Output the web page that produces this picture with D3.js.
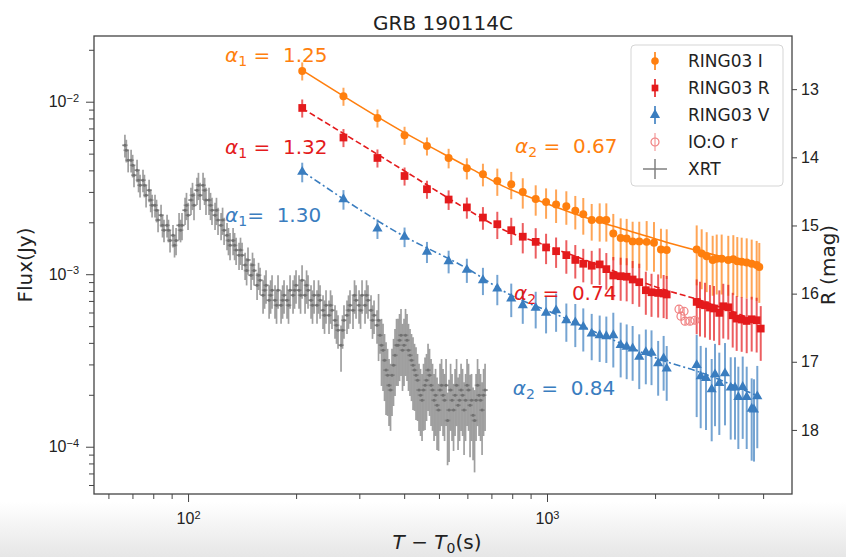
<!DOCTYPE html>
<html>
<head>
<meta charset="utf-8">
<script src="https://cdn.jsdelivr.net/npm/d3@7/dist/d3.min.js"></script>
<style>
    body { margin: 0; background: #fff; }
    svg { font-family: "DejaVu Sans", sans-serif; }
    .axis path, .axis line { stroke: #444; }
    .axis text { fill: #222; font-size: 16px; }
</style>
</head>
<body>
<div id="chart"></div>
<script>

// RING03 I band (orange)
let iTime = [208, 271, 337, 401, 463, 532, 598, 663, 727, 795, 856, 930, 994, 1060, 1132, 1199, 1262, 1332, 1402, 1463,
    1530, 1604, 1667, 1732, 1807, 1895, 1986, 2077, 2155, 2612, 2697, 2785, 2894, 2970, 3066, 3199, 3304, 3389, 3486,
    3600, 3717, 3838, 3903];
let iFlux = [0.01509, 0.01076, 0.00805, 0.00639, 0.00554, 0.00472, 0.00412, 0.00380, 0.00347, 0.00332, 0.00300, 0.00273,
    0.00262, 0.00254, 0.00248, 0.00233, 0.00223, 0.00206, 0.00206, 0.00206, 0.00172, 0.00162, 0.00161, 0.00155, 0.00155,
    0.00154, 0.00152, 0.00139, 0.00138, 0.00139, 0.00132, 0.00127, 0.00121, 0.00123, 0.00123, 0.00121, 0.00122, 0.00119,
    0.00118, 0.00117, 0.00115, 0.00113, 0.00110];
let iErr = [0.12, 0.12, 0.12, 0.12, 0.12, 0.13, 0.14, 0.15, 0.18, 0.18, 0.2, 0.2, 0.2, 0.22, 0.22, 0.22, 0.24, 0.24,
    0.25, 0.25, 0.3, 0.3, 0.3, 0.3, 0.3, 0.32, 0.32, 0.32, 0.32, 0.38, 0.38, 0.38, 0.38, 0.38, 0.38, 0.38, 0.38, 0.38,
    0.38, 0.38, 0.38, 0.38, 0.38];

// RING03 R band (red)
let rTime = [208, 271, 337, 401, 463, 532, 598, 663, 727, 795, 856, 930, 994, 1060, 1132, 1199, 1262, 1332, 1402, 1463,
    1530, 1604, 1667, 1732, 1807, 1885, 1955, 2040, 2113, 2155, 2612, 2668, 2755, 2844, 2919, 3020, 3098, 3199, 3291,
    3376, 3486, 3600, 3717, 3838, 3939];
let rFlux = [0.00920, 0.00620, 0.00472, 0.00371, 0.00311, 0.00271, 0.00244, 0.00213, 0.00195, 0.00180, 0.00165, 0.00154,
    0.00143, 0.00136, 0.00129, 0.00121, 0.00115, 0.00112, 0.00114, 0.00107, 0.000983, 0.000974, 0.000967, 0.000932,
    0.000899, 0.000808, 0.000786, 0.000779, 0.000773, 0.000763, 0.000691, 0.000670, 0.000661, 0.000641, 0.000633,
    0.000597, 0.000652, 0.000643, 0.000578, 0.000553, 0.000546, 0.000536, 0.000548, 0.000541, 0.000484];
let rErr = [0.12, 0.12, 0.12, 0.12, 0.12, 0.13, 0.14, 0.15, 0.18, 0.18, 0.2, 0.2, 0.2, 0.2, 0.22, 0.22, 0.22, 0.22,
    0.24, 0.24, 0.28, 0.28, 0.28, 0.28, 0.28, 0.28, 0.28, 0.28, 0.28, 0.28, 0.35, 0.35, 0.35, 0.35, 0.35, 0.35, 0.35,
    0.35, 0.35, 0.35, 0.35, 0.35, 0.35, 0.35, 0.35];

// RING03 V band (blue)
let vTime = [208, 271, 337, 401, 463, 532, 598, 663, 727, 795, 856, 930, 994, 1060, 1132, 1199, 1262, 1332, 1402, 1463,
    1530, 1604, 1667, 1732, 1807, 1885, 1955, 2040, 2113, 2155, 2612, 2680, 2773, 2876, 2938, 3020, 3132, 3249, 3340,
    3412, 3509, 3600, 3717, 3772, 3853];
let vFlux = [0.00392, 0.00272, 0.00184, 0.00165, 0.00135, 0.00119, 0.00106, 0.000923, 0.000826, 0.000723, 0.000661,
    0.000638, 0.000597, 0.000618, 0.000541, 0.000525, 0.000495, 0.000453, 0.000443, 0.000437, 0.000443, 0.000388,
    0.000379, 0.000371, 0.000332, 0.000354, 0.000350, 0.000304, 0.000325, 0.000284, 0.000297, 0.000256, 0.000250,
    0.000215, 0.000263, 0.000234, 0.000266, 0.000220, 0.000220, 0.000194, 0.000222, 0.000194, 0.000166, 0.000164,
    0.000196];
let vErr = [0.13, 0.13, 0.13, 0.13, 0.14, 0.15, 0.16, 0.18, 0.2, 0.22, 0.22, 0.24, 0.24, 0.25, 0.25, 0.28, 0.28, 0.3,
    0.3, 0.3, 0.35, 0.35, 0.35, 0.35, 0.35, 0.35, 0.35, 0.35, 0.35, 0.35, 0.5, 0.5, 0.5, 0.5, 0.5, 0.5, 0.5, 0.5, 0.5,
    0.5, 0.5, 0.5, 0.5, 0.5, 0.5];

// IO:O r (open circles)
let ioTime = [2332, 2362, 2424, 2502, 2584, 2408];
let ioFlux = [0.000627, 0.000571, 0.000534, 0.000534, 0.000541, 0.000610];
let ioErr = [0.05, 0.05, 0.05, 0.05, 0.05, 0.05];

// Swift XRT (grey)
let xrtTime = [66.7, 68.1, 69.4, 70.7, 72.1, 73.5, 74.9, 76.4, 77.9, 79.4, 80.9, 82.5, 84.1, 85.7, 87.4, 89.1, 90.8,
    92.6, 94.4, 96.2, 98.1, 100, 101.9, 103.9, 105.9, 108.0, 110.1, 112.2, 114.4, 116.6, 118.9, 121.2, 123.6, 126.0,
    128.4, 130.9, 133.5, 136.1, 138.7, 141.4, 144.2, 146.9, 149.8, 152.7, 155.7, 158.7, 161.8, 164.9, 168.2, 171.4,
    174.7, 178.1, 181.6, 185.1, 188.7, 192.4, 196.1, 199.9, 203.8, 207.8, 211.8, 215.9, 220.1, 224.4, 228.7, 233.2,
    237.7, 242.3, 247.0, 251.8, 256.7, 261.7, 266.8, 271.9, 277.2, 282.6, 288.1, 293.8, 299.5, 305.3, 311.2, 317.2,
    323.4, 329.7, 336.1, 342.6, 349.3, 356.1, 363.0, 370.0, 377.2, 384.6, 392.0, 399.6, 407.4, 415.3, 423.4, 431.6,
    440.0, 448.6, 457.3, 466.2, 475.3, 484.5, 493.9, 503.5, 513.3, 523.3, 533.5, 543.8, 554.4, 565.2, 576.2, 587.4,
    598.8, 610.4, 622.3, 634.4, 646.7, 659.3, 672.1,
    67.3, 70.1, 72.8, 75.6, 78.7, 81.7, 84.9, 88.2, 91.7, 95.3, 99.0, 102.9, 106.9, 111.2, 115.5, 120.0, 124.8, 129.6,
    134.8, 140.0, 145.6, 151.2, 157.2, 163.4, 169.8, 176.4, 183.4, 190.5, 198.0, 205.8, 213.9, 222.2, 230.9, 240.0,
    249.4, 259.2, 269.4, 279.9, 290.9, 302.4, 314.2, 326.5, 339.4, 345.9, 352.7, 359.6, 366.5, 373.6, 380.9, 388.3,
    395.8, 403.5, 411.3, 419.3, 427.5, 435.8, 444.3, 452.9, 461.7, 470.7, 479.9, 489.2, 498.7, 508.4, 518.3, 528.4,
    538.7, 549.1, 559.8, 570.7, 581.8, 593.1, 604.6, 616.3, 628.3, 640.5, 653.0, 665.7];
let xrtFlux = [5.59e-3, 4.58e-3, 4.58e-3, 3.75e-3, 4.01e-3, 3.28e-3, 3.51e-3, 2.87e-3, 3.07e-3, 2.51e-3,
    2.51e-3, 2.06e-3, 2.20e-3, 1.80e-3, 1.92e-3, 1.57e-3, 1.68e-3, 1.57e-3, 1.92e-3, 1.92e-3,
    2.35e-3, 2.20e-3, 2.69e-3, 2.51e-3, 3.07e-3, 2.87e-3, 3.28e-3, 2.69e-3, 2.69e-3, 2.35e-3,
    2.20e-3, 2.06e-3, 1.92e-3, 1.80e-3, 1.68e-3, 1.47e-3, 1.57e-3, 1.38e-3, 1.29e-3, 1.29e-3,
    1.13e-3, 1.21e-3, 0.987e-3, 1.05e-3, 0.863e-3, 0.923e-3, 0.756e-3, 0.863e-3, 0.707e-3, 0.808e-3,
    0.707e-3, 0.808e-3, 0.661e-3, 0.756e-3, 0.707e-3, 0.808e-3, 0.756e-3, 0.863e-3, 0.808e-3, 0.923e-3,
    0.756e-3, 0.808e-3, 0.707e-3, 0.756e-3, 0.661e-3, 0.707e-3, 0.618e-3, 0.661e-3, 0.578e-3, 0.618e-3,
    0.541e-3, 0.474e-3, 0.388e-3, 0.541e-3, 0.578e-3, 0.661e-3, 0.618e-3, 0.707e-3, 0.661e-3, 0.756e-3,
    0.661e-3, 0.707e-3, 0.618e-3, 0.578e-3, 0.506e-3, 0.443e-3, 0.363e-3, 0.278e-3, 0.227e-3, 0.260e-3,
    0.339e-3, 0.388e-3, 0.443e-3, 0.388e-3, 0.414e-3, 0.339e-3, 0.297e-3, 0.260e-3, 0.213e-3, 0.186e-3,
    0.227e-3, 0.278e-3, 0.227e-3, 0.186e-3, 0.174e-3, 0.213e-3, 0.199e-3, 0.227e-3, 0.163e-3, 0.186e-3,
    0.199e-3, 0.174e-3, 0.213e-3, 0.163e-3, 0.227e-3, 0.174e-3, 0.152e-3, 0.186e-3, 0.199e-3, 0.163e-3, 0.213e-3,
    5.23e-3, 4.28e-3, 3.51e-3, 3.28e-3, 2.69e-3, 2.35e-3, 1.92e-3, 1.80e-3, 1.47e-3, 1.80e-3,
    2.51e-3, 2.87e-3, 3.28e-3, 3.07e-3, 2.51e-3, 2.35e-3, 2.06e-3, 1.57e-3, 1.47e-3, 1.38e-3,
    1.05e-3, 1.13e-3, 0.987e-3, 0.808e-3, 0.756e-3, 0.661e-3, 0.707e-3, 0.661e-3, 0.808e-3, 0.756e-3,
    0.863e-3, 0.661e-3, 0.756e-3, 0.578e-3, 0.661e-3, 0.506e-3, 0.474e-3, 0.618e-3, 0.756e-3, 0.618e-3,
    0.756e-3, 0.541e-3, 0.541e-3, 0.388e-3, 0.317e-3, 0.260e-3, 0.213e-3, 0.297e-3, 0.388e-3, 0.414e-3,
    0.363e-3, 0.443e-3, 0.363e-3, 0.317e-3, 0.278e-3, 0.243e-3, 0.199e-3, 0.213e-3, 0.243e-3, 0.260e-3,
    0.213e-3, 0.199e-3, 0.163e-3, 0.227e-3, 0.186e-3, 0.142e-3, 0.213e-3, 0.163e-3, 0.227e-3, 0.186e-3,
    0.199e-3, 0.186e-3, 0.213e-3, 0.186e-3, 0.142e-3, 0.227e-3, 0.186e-3, 0.199e-3];
let xrtErr = [0.15, 0.15, 0.15, 0.15, 0.15, 0.15, 0.15, 0.15, 0.15, 0.15, 0.15, 0.15, 0.15, 0.15, 0.15, 0.15, 0.15,
    0.18, 0.18, 0.18, 0.18, 0.18, 0.18, 0.18, 0.18, 0.18, 0.18, 0.18, 0.18, 0.18, 0.18, 0.18, 0.18, 0.18, 0.18, 0.18,
    0.18, 0.18, 0.18, 0.18, 0.18, 0.18, 0.18, 0.18, 0.18, 0.18,
    0.22, 0.22, 0.22, 0.22, 0.22, 0.22, 0.22, 0.22, 0.22, 0.22, 0.22, 0.22, 0.22, 0.22, 0.22, 0.22, 0.22, 0.22, 0.22,
    0.22, 0.22, 0.22, 0.22, 0.22, 0.22, 0.22, 0.3, 0.22, 0.22, 0.22, 0.22, 0.22, 0.22, 0.22, 0.22, 0.22, 0.22, 0.22,
    0.22, 0.22,
    0.42, 0.45, 0.42, 0.42, 0.42, 0.42, 0.42, 0.42, 0.42, 0.42, 0.45, 0.45, 0.42, 0.42, 0.45, 0.42, 0.42, 0.42, 0.45,
    0.42, 0.42, 0.42, 0.5, 0.42, 0.42, 0.45, 0.42, 0.45, 0.42, 0.5, 0.45, 0.42, 0.42, 0.45, 0.42,
    0.15, 0.15, 0.15, 0.15, 0.15, 0.15, 0.15, 0.15, 0.15, 0.15, 0.18, 0.18, 0.18, 0.18, 0.18, 0.18, 0.18, 0.18, 0.18,
    0.18, 0.18, 0.18, 0.18, 0.22, 0.22, 0.22, 0.22, 0.22, 0.22, 0.22, 0.22, 0.22, 0.22, 0.22, 0.22, 0.22, 0.22, 0.22,
    0.22, 0.22, 0.22, 0.22, 0.42, 0.42, 0.42, 0.42, 0.42, 0.42, 0.42, 0.42, 0.42, 0.42, 0.42, 0.42, 0.42, 0.42, 0.42,
    0.42, 0.42, 0.42, 0.42, 0.42, 0.42, 0.42, 0.42, 0.45, 0.42, 0.42, 0.42, 0.42, 0.42, 0.42, 0.42, 0.42, 0.5, 0.42,
    0.42, 0.42];
let xrtBinFrac = 0.018;

// broken power-law fits
let iFitTime = [207.8, 389.5, 610.3, 754.1, 937.9, 1159, 1432, 1781, 2201, 2938, 3921];
let iFitFlux = [0.01523, 0.00684, 0.00412, 0.00324, 0.00269, 0.00229, 0.00198, 0.00173, 0.00151, 0.00129, 0.00111];
let rFitTime = [207.8, 389.5, 610.3, 739.8, 956.1, 1236, 1597, 2064, 2668, 3921];
let rFitFlux = [0.00917, 0.00412, 0.00232, 0.00185, 0.00151, 0.00124, 0.00101, 0.000829, 0.000707, 0.000527];
let vFitTime = [207.8, 389.5, 598.7, 793.6, 1060, 1405, 2132, 2617, 3921];
let vFitFlux = [0.00396, 0.00171, 0.00108, 0.000755, 0.000586, 0.000449, 0.000313, 0.000274, 0.000194];

// slope labels
let slopeLabels = [
    {t: 126.8, f: 0.01700, idx: "1", eq: " =  ", val: "1.25", color: "#ff7f0e"},
    {t: 126.8, f: 0.00496, idx: "1", eq: " =  ", val: "1.32", color: "#e41a1c"},
    {t: 126.8, f: 0.00201, idx: "1", eq: "=  ", val: "1.30", color: "#3a7dbf"},
    {t: 814.5, f: 0.00503, idx: "2", eq: " =  ", val: "0.67", color: "#ff7f0e"},
    {t: 809, f: 0.000707, idx: "2", eq: " =  ", val: "0.74", color: "#e41a1c"},
    {t: 803, f: 0.000199, idx: "2", eq: " =  ", val: "0.84", color: "#3a7dbf"}
];

let legendLabels = ["RING03 I", "RING03 R", "RING03 V", "IO:O r", "XRT"];

let xMajor = [100, 1000];
let xMinor = [60, 70, 80, 90, 200, 300, 400, 500, 600, 700, 800, 900, 2000, 3000, 4000];
let yMajor = [1e-4, 1e-3, 1e-2];
let yMinor = [6e-5, 7e-5, 8e-5, 9e-5, 2e-4, 3e-4, 4e-4, 5e-4, 6e-4, 7e-4, 8e-4, 9e-4,
    2e-3, 3e-3, 4e-3, 5e-3, 6e-3, 7e-3, 8e-3, 9e-3, 2e-2];
let magTicks = [13, 14, 15, 16, 17, 18];
let magDomain = [12.22, 18.94];


class LightCurve {

    constructor(parentElement) {
        this.parentElement = parentElement;
        this.initVis();
    }

    initVis() {
        let vis = this;
        vis.margin = {top: 36, right: 54, bottom: 63, left: 94};
        vis.width = 846 - vis.margin.left - vis.margin.right;
        vis.height = 557 - vis.margin.top - vis.margin.bottom;

        vis.root = d3.select("#" + vis.parentElement).append("svg")
            .attr("width", 846)
            .attr("height", 557);

        // faint grey band at the very bottom of the screenshot
        let grad = vis.root.append("defs").append("linearGradient")
            .attr("id", "fade").attr("x1", 0).attr("x2", 0).attr("y1", 0).attr("y2", 1);
        grad.append("stop").attr("offset", "0%").attr("stop-color", "#ffffff");
        grad.append("stop").attr("offset", "100%").attr("stop-color", "#e6e6e6");
        vis.root.append("rect")
            .attr("x", 0).attr("y", 502).attr("width", 846).attr("height", 55)
            .attr("fill", "url(#fade)");

        vis.svg = vis.root.append("g")
            .attr("transform", `translate (${vis.margin.left}, ${vis.margin.top})`);

        vis.x = d3.scaleLog().domain([54.7, 4814]).range([0, vis.width]);
        vis.y = d3.scaleLog().domain([5.32e-5, 0.02404]).range([vis.height, 0]);
        vis.mag = d3.scaleLinear().domain(magDomain).range([0, vis.height]);

        // title
        vis.svg.append("text")
            .text("GRB 190114C")
            .attr("x", vis.width / 2)
            .attr("y", -6)
            .attr("text-anchor", "middle")
            .attr("font-size", "20px")
            .attr("fill", "#222");

        // axis labels
        vis.svg.append("text")
            .text("Flux(Jy)")
            .attr("transform", "translate(-62, " + (vis.height / 2) + ") rotate(-90)")
            .attr("text-anchor", "middle")
            .attr("font-size", "20px")
            .attr("fill", "#222");

        vis.svg.append("text")
            .text("R (mag)")
            .attr("transform", "translate(" + (vis.width + 43) + ", " + (vis.height / 2) + ") rotate(-90)")
            .attr("text-anchor", "middle")
            .attr("font-size", "20px")
            .attr("fill", "#222");

        let xl = vis.svg.append("text")
            .attr("x", 343)
            .attr("y", vis.height + 55)
            .attr("text-anchor", "middle")
            .attr("font-size", "20px")
            .attr("fill", "#222");
        xl.append("tspan").attr("font-style", "italic").text("T");
        xl.append("tspan").text(" \u2212 ");
        xl.append("tspan").attr("font-style", "italic").text("T");
        xl.append("tspan").attr("font-size", "14px").attr("dy", 4).text("0");
        xl.append("tspan").attr("dy", -4).text("(s)");

        vis.updateVis();
    }

    updateVis() {
        let vis = this;

        let powLabel = function (g) {
            g.selectAll(".tick text").each(function (d) {
                let e = Math.round(Math.log10(d));
                let t = d3.select(this).text("10");
                t.append("tspan")
                    .attr("dy", "-0.5em")
                    .attr("font-size", "11px")
                    .text(e < 0 ? "\u2212" + (-e) : e);
            });
        };

        // x axis
        vis.svg.append("g")
            .attr("class", "axis x-axis")
            .attr("transform", `translate (0,${vis.height})`)
            .call(d3.axisBottom(vis.x).tickValues(xMajor).tickSize(8).tickPadding(11))
            .call(powLabel);
        vis.svg.append("g")
            .attr("class", "axis")
            .attr("transform", `translate (0,${vis.height})`)
            .call(d3.axisBottom(vis.x).tickValues(xMinor).tickSize(5).tickFormat(""));

        // y axis
        vis.svg.append("g")
            .attr("class", "axis y-axis")
            .call(d3.axisLeft(vis.y).tickValues(yMajor).tickSize(8).tickPadding(7))
            .call(powLabel);
        vis.svg.append("g")
            .attr("class", "axis")
            .call(d3.axisLeft(vis.y).tickValues(yMinor).tickSize(5).tickFormat(""));

        // right magnitude axis
        vis.svg.append("g")
            .attr("class", "axis")
            .attr("transform", `translate (${vis.width},0)`)
            .call(d3.axisRight(vis.mag).tickValues(magTicks).tickSize(5).tickPadding(4).tickFormat(d3.format("d")));

        vis.svg.selectAll(".axis .domain").remove();
        vis.svg.append("rect")
            .attr("width", vis.width).attr("height", vis.height)
            .attr("fill", "none").attr("stroke", "#444").attr("stroke-width", 1.3);

        let plot = vis.svg.append("g");

        let zip = (ts, fs, es) => ts.map((t, i) => ({t: t, f: fs[i], e: es[i]}));

        // XRT
        let xrt = zip(xrtTime, xrtFlux, xrtErr);
        let xg = plot.append("g").attr("stroke", "#7f7f7f").attr("stroke-opacity", 0.75).attr("stroke-width", 1.7);
        xg.selectAll(".xv").data(xrt).enter().append("line")
            .attr("x1", d => vis.x(d.t)).attr("x2", d => vis.x(d.t))
            .attr("y1", d => vis.y(d.f * (1 + d.e))).attr("y2", d => vis.y(d.f * (1 - d.e)));
        xg.selectAll(".xh").data(xrt).enter().append("line")
            .attr("x1", d => vis.x(d.t * (1 - xrtBinFrac))).attr("x2", d => vis.x(d.t * (1 + xrtBinFrac)))
            .attr("y1", d => vis.y(d.f)).attr("y2", d => vis.y(d.f));
        plot.append("g").selectAll("circle").data(xrt).enter().append("circle")
            .attr("cx", d => vis.x(d.t)).attr("cy", d => vis.y(d.f)).attr("r", 1.5)
            .attr("fill", "#707070");

        let line = d3.line()
            .x(d => vis.x(d.t))
            .y(d => vis.y(d.f))
            .curve(d3.curveMonotoneX);

        let series = [
            {data: zip(iTime, iFlux, iErr), fitT: iFitTime, fitF: iFitFlux, color: "#ff7f0e", dash: null, shape: d3.symbolCircle, size: 50},
            {data: zip(rTime, rFlux, rErr), fitT: rFitTime, fitF: rFitFlux, color: "#e41a1c", dash: "6,3", shape: d3.symbolSquare, size: 60},
            {data: zip(vTime, vFlux, vErr), fitT: vFitTime, fitF: vFitFlux, color: "#3a7dbf", dash: "7,3,2,3", shape: d3.symbolTriangle, size: 45}
        ];

        series.forEach(function (s) {
            let fit = s.fitT.map((t, i) => ({t: t, f: s.fitF[i]}));
            plot.append("path")
                .datum(fit)
                .attr("fill", "none")
                .attr("stroke", s.color)
                .attr("stroke-width", 1.6)
                .attr("stroke-dasharray", s.dash)
                .attr("d", line);

            let g = plot.append("g");
            g.selectAll("line").data(s.data).enter().append("line")
                .attr("x1", d => vis.x(d.t)).attr("x2", d => vis.x(d.t))
                .attr("y1", d => vis.y(d.f * (1 + d.e))).attr("y2", d => vis.y(d.f * (1 - d.e)))
                .attr("stroke", s.color).attr("stroke-opacity", 0.7).attr("stroke-width", 2);
            g.selectAll("path").data(s.data).enter().append("path")
                .attr("d", d3.symbol().type(s.shape).size(s.size))
                .attr("transform", d => `translate(${vis.x(d.t)},${vis.y(d.f)})`)
                .attr("fill", s.color);
        });

        // IO:O r
        let io = zip(ioTime, ioFlux, ioErr);
        let ig = plot.append("g").attr("stroke", "#f08080").attr("stroke-width", 1.2).attr("fill", "none");
        ig.selectAll("line").data(io).enter().append("line")
            .attr("x1", d => vis.x(d.t)).attr("x2", d => vis.x(d.t))
            .attr("y1", d => vis.y(d.f * (1 + d.e))).attr("y2", d => vis.y(d.f * (1 - d.e)));
        ig.selectAll("circle").data(io).enter().append("circle")
            .attr("cx", d => vis.x(d.t)).attr("cy", d => vis.y(d.f)).attr("r", 4);

        // slope annotations
        slopeLabels.forEach(function (a) {
            let tx = vis.svg.append("text")
                .attr("x", vis.x(a.t))
                .attr("y", vis.y(a.f))
                .attr("font-size", "20px")
                .attr("fill", a.color)
                .style("white-space", "pre");
            tx.append("tspan").attr("font-style", "italic").text("\u03b1");
            tx.append("tspan").attr("font-size", "14px").attr("dy", 4).text(a.idx);
            tx.append("tspan").attr("dy", -4).text(a.eq + a.val);
        });

        // legend
        let lg = vis.svg.append("g").attr("transform", "translate(537, 9)");
        lg.append("rect")
            .attr("width", 152).attr("height", 141).attr("rx", 4)
            .attr("fill", "#fff").attr("fill-opacity", 0.85)
            .attr("stroke", "#d5d5d5");
        let colors = ["#ff7f0e", "#e41a1c", "#3a7dbf", "#f08080", "#7f7f7f"];
        let shapes = [d3.symbolCircle, d3.symbolSquare, d3.symbolTriangle];
        legendLabels.forEach(function (lab, i) {
            let cy = 16 + i * 27;
            let row = lg.append("g").attr("transform", `translate(24,${cy})`);
            if (i < 4) {
                row.append("line").attr("y1", -9).attr("y2", 9)
                    .attr("stroke", colors[i]).attr("stroke-width", i === 3 ? 1.2 : 2).attr("stroke-opacity", 0.8);
            }
            if (i < 3) {
                row.append("path").attr("d", d3.symbol().type(shapes[i]).size(45)).attr("fill", colors[i]);
            } else if (i === 3) {
                row.append("circle").attr("r", 4).attr("fill", "none").attr("stroke", colors[i]).attr("stroke-width", 1.2);
            } else {
                row.append("line").attr("x1", -12).attr("x2", 12).attr("stroke", colors[i]).attr("stroke-width", 1.5);
                row.append("line").attr("y1", -10).attr("y2", 10).attr("stroke", colors[i]).attr("stroke-width", 1.5);
            }
            lg.append("text")
                .attr("x", 57).attr("y", cy).attr("dy", "0.35em")
                .attr("font-size", "17px").attr("fill", "#222")
                .text(lab);
        });
    }
}

new LightCurve("chart");
</script>
</body>
</html>
